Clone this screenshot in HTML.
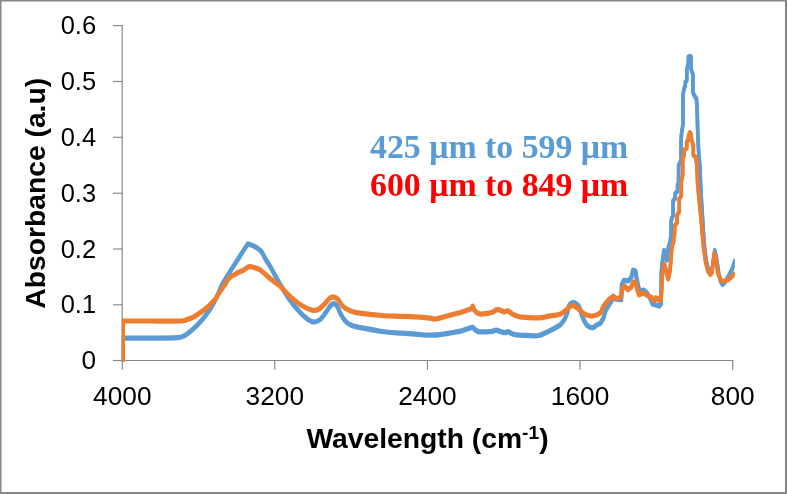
<!DOCTYPE html>
<html><head><meta charset="utf-8"><title>FTIR Absorbance</title>
<style>
html,body{margin:0;padding:0;background:#fff;}
body{width:787px;height:494px;overflow:hidden;}
svg{display:block;}
.tick{font-family:"Liberation Sans",sans-serif;font-size:25px;fill:#000;}
.ttl{font-family:"Liberation Sans",sans-serif;font-weight:bold;font-size:28px;fill:#000;}
.leg{font-family:"Liberation Serif",serif;font-weight:bold;font-size:33.85px;}
</style></head><body>
<svg width="787" height="494" viewBox="0 0 787 494">
<rect x="0" y="0" width="787" height="494" fill="#fff"/>
<path d="M0,0H787V494H0Z M1.5,1.5V492H785V1.5Z" fill="#868686" fill-rule="evenodd"/>

<g stroke="#868686" stroke-width="1.15" fill="none">
<line x1="122.2" y1="25" x2="122.2" y2="361"/>
<line x1="113" y1="360.5" x2="733.4" y2="360.5"/>
<line x1="113" y1="25.65" x2="122.5" y2="25.65"/>
<line x1="113" y1="81.5" x2="122.5" y2="81.5"/>
<line x1="113" y1="137.3" x2="122.5" y2="137.3"/>
<line x1="113" y1="193.2" x2="122.5" y2="193.2"/>
<line x1="113" y1="249.0" x2="122.5" y2="249.0"/>
<line x1="113" y1="304.8" x2="122.5" y2="304.8"/>
<line x1="113" y1="360.5" x2="122.5" y2="360.5"/>
<line x1="122.3" y1="360" x2="122.3" y2="369.7"/>
<line x1="274.8" y1="360" x2="274.8" y2="369.7"/>
<line x1="427.45" y1="360" x2="427.45" y2="369.7"/>
<line x1="580.05" y1="360" x2="580.05" y2="369.7"/>
<line x1="732.7" y1="360" x2="732.7" y2="369.7"/>
</g>
<text class="tick" transform="translate(96.1,34.2) scale(1.02,1)" text-anchor="end">0.6</text>
<text class="tick" transform="translate(96.1,90.1) scale(1.02,1)" text-anchor="end">0.5</text>
<text class="tick" transform="translate(96.1,145.9) scale(1.02,1)" text-anchor="end">0.4</text>
<text class="tick" transform="translate(96.1,201.8) scale(1.02,1)" text-anchor="end">0.3</text>
<text class="tick" transform="translate(96.1,257.6) scale(1.02,1)" text-anchor="end">0.2</text>
<text class="tick" transform="translate(96.1,313.4) scale(1.02,1)" text-anchor="end">0.1</text>
<text class="tick" transform="translate(96.1,369.1) scale(1.05,1)" text-anchor="end">0</text>
<text class="tick" transform="translate(122.3,405.4) scale(1.05,1)" text-anchor="middle">4000</text>
<text class="tick" transform="translate(274.8,405.4) scale(1.05,1)" text-anchor="middle">3200</text>
<text class="tick" transform="translate(427.45,405.4) scale(1.05,1)" text-anchor="middle">2400</text>
<text class="tick" transform="translate(580.05,405.4) scale(1.05,1)" text-anchor="middle">1600</text>
<text class="tick" transform="translate(732.7,405.4) scale(1.05,1)" text-anchor="middle">800</text>
<defs><clipPath id="pc"><rect x="121.8" y="20" width="612.9" height="342"/></clipPath></defs>
<g fill="none" stroke-width="3.6" stroke-linejoin="round" stroke-linecap="round" clip-path="url(#pc)">
<path stroke="#5B9BD5" stroke-width="3.85" transform="translate(0,-0.7)" d="M122.5,360.5 L122.8,338.2 L124.0,338.1 L150.0,338.1 C158.8,338.0 171.1,338.1 176.9,337.7 C182.7,337.2 182.3,336.9 185.0,335.4 C187.7,333.9 190.5,331.3 193.2,328.9 C195.9,326.5 198.7,323.8 201.3,320.8 C203.9,317.8 206.8,313.9 208.9,311.0 C211.0,308.1 212.2,305.8 213.7,303.1 C215.2,300.4 216.6,297.4 217.8,294.8 C219.0,292.2 219.5,290.0 220.7,287.5 C221.9,285.0 223.2,282.8 225.0,279.8 C226.8,276.8 229.1,273.2 231.5,269.3 C233.9,265.4 237.2,260.4 239.7,256.5 C242.2,252.6 244.9,248.1 246.5,246.0 C248.1,243.9 246.8,243.5 249.1,244.2 C251.4,244.9 257.3,247.6 260.2,250.3 C263.1,253.0 264.7,257.9 266.3,260.5 C267.9,263.1 267.7,262.1 270.0,266.1 C272.3,270.1 276.8,278.6 280.2,284.4 C283.6,290.2 286.9,296.0 290.3,300.7 C293.7,305.4 297.4,309.6 300.5,312.8 C303.6,316.0 306.2,318.5 308.6,320.0 C311.0,321.5 312.7,322.2 314.7,322.0 C316.7,321.8 318.8,320.9 320.8,319.0 C322.8,317.1 325.2,313.1 326.9,310.8 C328.6,308.5 329.8,306.3 331.0,305.1 C332.2,303.9 333.0,303.5 334.0,303.7 C335.0,303.9 335.9,304.4 337.1,306.3 C338.3,308.2 339.6,312.3 341.1,314.9 C342.6,317.5 344.2,320.1 346.2,322.0 C348.2,323.9 350.4,325.1 353.3,326.1 C356.2,327.1 358.8,327.2 363.5,328.1 C368.2,329.0 375.4,330.6 381.8,331.5 C388.2,332.4 395.7,332.7 402.1,333.2 C408.5,333.7 415.3,334.3 420.0,334.6 C424.7,334.9 426.8,335.1 430.2,335.1 C433.6,335.1 436.9,335.0 440.3,334.6 C443.7,334.2 447.1,333.5 450.5,332.9 C453.9,332.3 457.7,331.8 460.6,331.1 C463.5,330.4 465.8,329.3 467.8,328.7 C469.8,328.1 471.6,327.1 472.8,327.3 C474.0,327.5 473.9,328.9 474.9,329.6 C475.9,330.4 477.0,331.4 478.9,331.8 C480.8,332.2 483.8,331.9 486.0,331.8 C488.2,331.7 490.4,331.6 492.1,331.3 C493.8,331.0 494.9,330.1 496.2,330.1 C497.5,330.1 498.6,331.1 500.1,331.5 C501.6,331.9 503.9,332.7 505.2,332.7 C506.5,332.7 506.9,331.4 508.2,331.7 C509.5,331.9 511.3,333.6 513.3,334.2 C515.3,334.8 517.5,334.9 520.4,335.2 C523.3,335.4 527.5,335.6 530.6,335.7 C533.7,335.8 536.2,336.0 538.7,335.5 C541.2,335.0 543.3,333.8 545.8,332.7 C548.3,331.6 551.5,329.9 553.9,328.6 C556.3,327.3 558.3,326.4 560.0,325.0 C561.7,323.6 562.9,321.9 564.1,320.0 C565.3,318.1 566.3,315.9 567.1,313.5 C567.9,311.1 568.2,307.3 569.1,305.5 C570.0,303.7 571.2,303.2 572.2,302.8 C573.2,302.4 574.0,302.3 575.2,303.0 C576.4,303.7 578.2,304.9 579.3,307.0 C580.4,309.1 580.9,313.1 581.8,315.5 C582.6,317.9 583.5,319.4 584.4,321.1 C585.3,322.8 586.0,324.5 587.4,325.6 C588.8,326.7 591.0,327.8 592.5,327.7 C594.0,327.6 595.2,325.9 596.6,325.1 L600.6,323.1 L603.7,317.5 L605.7,310.4 L608.8,305.3 L611.8,300.2 L613.4,296.2 L615.9,299.2 L620.0,299.7 L621.3,299.7 L621.8,284.5 L623.9,280.4 L628.5,280.9 L631.5,276.8 L633.0,270.2 L635.6,271.3 L636.6,278.4 L638.1,285.5 L639.6,291.6 L643.7,290.1 L646.7,292.6 L650.8,299.7 L652.5,304.0 L656.0,305.0 L659.2,306.0 L661.0,303.8"/>
<path stroke="#5B9BD5" transform="translate(0,-0.7)" d="M661.0,303.8 L661.3,272.5 L662.2,264.0 L663.2,256.0 L664.0,250.3 L665.0,253.5 L665.8,256.7 L667.0,260.4 L668.2,248.2 L670.0,242.2 L671.2,233.6 L671.2,220.2 L673.1,215.4 L673.1,200.8 L675.2,198.4 L675.2,193.5 L677.6,191.1 L677.6,185.0 L678.6,183.0 L678.6,165.4 L681.1,160.3 L681.1,140.0 L681.5,134.0 L683.0,124.0 L683.0,95.0 L683.5,92.0 L683.9,89.5 L685.3,85.5 L685.3,82.4 L686.8,80.4 L686.8,69.3 L688.3,64.2 L688.5,56.6 L689.9,56.3 L691.2,57.1 L691.2,69.3 L692.9,74.4 L693.0,92.5 L694.0,95.0 L696.5,99.0 L697.2,111.8 L697.8,135.0 L698.8,155.2 L699.8,165.4 L700.6,185.0 L701.6,203.0 L702.8,221.5 L703.5,233.6 L704.5,247.0 L706.3,261.5 L708.4,270.0 L710.8,273.5 L712.6,266.0 L714.8,250.5 L716.5,258.0 L718.5,272.0 L720.5,281.0 L722.6,284.5 L725.0,282.0 L728.3,276.7 L732.6,268.2 L734.7,261.1"/>
<path stroke="#5B9BD5" stroke-width="3.85" transform="translate(0,0.7)" d="M122.5,360.5 L122.8,338.2 L124.0,338.1 L150.0,338.1 C158.8,338.0 171.1,338.1 176.9,337.7 C182.7,337.2 182.3,336.9 185.0,335.4 C187.7,333.9 190.5,331.3 193.2,328.9 C195.9,326.5 198.7,323.8 201.3,320.8 C203.9,317.8 206.8,313.9 208.9,311.0 C211.0,308.1 212.2,305.8 213.7,303.1 C215.2,300.4 216.6,297.4 217.8,294.8 C219.0,292.2 219.5,290.0 220.7,287.5 C221.9,285.0 223.2,282.8 225.0,279.8 C226.8,276.8 229.1,273.2 231.5,269.3 C233.9,265.4 237.2,260.4 239.7,256.5 C242.2,252.6 244.9,248.1 246.5,246.0 C248.1,243.9 246.8,243.5 249.1,244.2 C251.4,244.9 257.3,247.6 260.2,250.3 C263.1,253.0 264.7,257.9 266.3,260.5 C267.9,263.1 267.7,262.1 270.0,266.1 C272.3,270.1 276.8,278.6 280.2,284.4 C283.6,290.2 286.9,296.0 290.3,300.7 C293.7,305.4 297.4,309.6 300.5,312.8 C303.6,316.0 306.2,318.5 308.6,320.0 C311.0,321.5 312.7,322.2 314.7,322.0 C316.7,321.8 318.8,320.9 320.8,319.0 C322.8,317.1 325.2,313.1 326.9,310.8 C328.6,308.5 329.8,306.3 331.0,305.1 C332.2,303.9 333.0,303.5 334.0,303.7 C335.0,303.9 335.9,304.4 337.1,306.3 C338.3,308.2 339.6,312.3 341.1,314.9 C342.6,317.5 344.2,320.1 346.2,322.0 C348.2,323.9 350.4,325.1 353.3,326.1 C356.2,327.1 358.8,327.2 363.5,328.1 C368.2,329.0 375.4,330.6 381.8,331.5 C388.2,332.4 395.7,332.7 402.1,333.2 C408.5,333.7 415.3,334.3 420.0,334.6 C424.7,334.9 426.8,335.1 430.2,335.1 C433.6,335.1 436.9,335.0 440.3,334.6 C443.7,334.2 447.1,333.5 450.5,332.9 C453.9,332.3 457.7,331.8 460.6,331.1 C463.5,330.4 465.8,329.3 467.8,328.7 C469.8,328.1 471.6,327.1 472.8,327.3 C474.0,327.5 473.9,328.9 474.9,329.6 C475.9,330.4 477.0,331.4 478.9,331.8 C480.8,332.2 483.8,331.9 486.0,331.8 C488.2,331.7 490.4,331.6 492.1,331.3 C493.8,331.0 494.9,330.1 496.2,330.1 C497.5,330.1 498.6,331.1 500.1,331.5 C501.6,331.9 503.9,332.7 505.2,332.7 C506.5,332.7 506.9,331.4 508.2,331.7 C509.5,331.9 511.3,333.6 513.3,334.2 C515.3,334.8 517.5,334.9 520.4,335.2 C523.3,335.4 527.5,335.6 530.6,335.7 C533.7,335.8 536.2,336.0 538.7,335.5 C541.2,335.0 543.3,333.8 545.8,332.7 C548.3,331.6 551.5,329.9 553.9,328.6 C556.3,327.3 558.3,326.4 560.0,325.0 C561.7,323.6 562.9,321.9 564.1,320.0 C565.3,318.1 566.3,315.9 567.1,313.5 C567.9,311.1 568.2,307.3 569.1,305.5 C570.0,303.7 571.2,303.2 572.2,302.8 C573.2,302.4 574.0,302.3 575.2,303.0 C576.4,303.7 578.2,304.9 579.3,307.0 C580.4,309.1 580.9,313.1 581.8,315.5 C582.6,317.9 583.5,319.4 584.4,321.1 C585.3,322.8 586.0,324.5 587.4,325.6 C588.8,326.7 591.0,327.8 592.5,327.7 C594.0,327.6 595.2,325.9 596.6,325.1 L600.6,323.1 L603.7,317.5 L605.7,310.4 L608.8,305.3 L611.8,300.2 L613.4,296.2 L615.9,299.2 L620.0,299.7 L621.3,299.7 L621.8,284.5 L623.9,280.4 L628.5,280.9 L631.5,276.8 L633.0,270.2 L635.6,271.3 L636.6,278.4 L638.1,285.5 L639.6,291.6 L643.7,290.1 L646.7,292.6 L650.8,299.7 L652.5,304.0 L656.0,305.0 L659.2,306.0 L661.0,303.8"/>
<path stroke="#5B9BD5" transform="translate(0,0.7)" d="M661.0,303.8 L661.3,272.5 L662.2,264.0 L663.2,256.0 L664.0,250.3 L665.0,253.5 L665.8,256.7 L667.0,260.4 L668.2,248.2 L670.0,242.2 L671.2,233.6 L671.2,220.2 L673.1,215.4 L673.1,200.8 L675.2,198.4 L675.2,193.5 L677.6,191.1 L677.6,185.0 L678.6,183.0 L678.6,165.4 L681.1,160.3 L681.1,140.0 L681.5,134.0 L683.0,124.0 L683.0,95.0 L683.5,92.0 L683.9,89.5 L685.3,85.5 L685.3,82.4 L686.8,80.4 L686.8,69.3 L688.3,64.2 L688.5,56.6 L689.9,56.3 L691.2,57.1 L691.2,69.3 L692.9,74.4 L693.0,92.5 L694.0,95.0 L696.5,99.0 L697.2,111.8 L697.8,135.0 L698.8,155.2 L699.8,165.4 L700.6,185.0 L701.6,203.0 L702.8,221.5 L703.5,233.6 L704.5,247.0 L706.3,261.5 L708.4,270.0 L710.8,273.5 L712.6,266.0 L714.8,250.5 L716.5,258.0 L718.5,272.0 L720.5,281.0 L722.6,284.5 L725.0,282.0 L728.3,276.7 L732.6,268.2 L734.7,261.1"/>
<path stroke="#ED7D31" stroke-width="3.85" transform="translate(0,-0.7)" d="M122.9,360.5 L122.9,321.0 L150.0,321.0 C159.5,321.0 173.8,321.2 180.0,321.0 C186.2,320.8 184.6,320.3 187.0,319.6 C189.4,318.9 191.9,317.9 194.3,316.6 C196.7,315.3 199.2,313.6 201.6,311.8 C204.0,310.0 206.7,307.9 208.9,305.8 C211.1,303.7 213.2,301.7 215.0,299.4 C216.8,297.1 218.3,294.3 220.0,291.8 C221.7,289.3 223.7,286.6 225.0,284.5 C226.3,282.4 227.1,280.8 228.0,279.5 C228.9,278.2 229.5,277.8 230.5,277.0 C231.5,276.2 232.8,275.7 234.0,275.0 C235.2,274.3 236.3,273.6 238.0,272.7 C239.7,271.8 242.2,270.8 244.0,269.8 C245.8,268.8 247.4,267.0 249.1,266.6 C250.8,266.2 252.2,266.9 254.0,267.5 C255.8,268.1 257.5,268.2 260.2,270.0 C262.9,271.8 266.7,275.8 270.0,278.5 C273.3,281.2 276.8,283.4 280.2,286.4 C283.6,289.4 286.9,293.6 290.3,296.6 C293.7,299.7 297.1,302.5 300.5,304.7 C303.9,306.9 307.8,308.9 310.7,309.8 C313.6,310.7 315.6,310.7 317.8,309.8 C320.0,308.9 321.9,306.7 323.9,304.7 C325.9,302.7 328.3,299.2 330.0,298.0 C331.7,296.8 332.6,296.9 334.0,297.2 C335.4,297.5 336.6,298.0 338.1,299.6 C339.6,301.2 341.0,304.8 343.2,306.7 C345.4,308.6 348.2,310.1 351.3,311.2 C354.4,312.3 356.4,312.6 361.5,313.3 C366.6,314.0 375.0,315.0 381.8,315.5 C388.6,316.0 395.7,316.0 402.1,316.3 C408.5,316.6 415.3,316.9 420.0,317.2 C424.7,317.5 427.8,317.9 430.2,318.2 C432.6,318.5 433.0,319.2 434.7,319.2 C436.4,319.1 437.7,318.6 440.3,317.9 C442.9,317.2 447.1,315.9 450.5,315.0 C453.9,314.1 457.7,313.3 460.6,312.5 C463.5,311.7 466.0,310.6 467.8,310.0 C469.6,309.4 470.5,309.3 471.3,308.7 C472.1,308.1 472.3,305.9 472.8,306.2 C473.3,306.4 473.4,308.9 474.4,310.2 C475.4,311.5 477.0,313.2 478.9,313.8 C480.8,314.4 483.8,313.9 486.0,313.6 C488.2,313.4 490.4,312.9 492.1,312.3 C493.8,311.7 495.0,310.3 496.2,309.9 C497.4,309.5 497.8,309.5 499.1,309.8 C500.4,310.1 502.7,311.6 504.1,311.8 C505.5,312.0 506.3,310.5 507.7,310.8 C509.1,311.1 510.7,313.0 512.3,313.9 C513.9,314.8 515.2,315.6 517.4,316.2 C519.6,316.8 522.0,317.1 525.5,317.4 C529.0,317.7 534.8,318.1 538.7,317.9 C542.6,317.7 545.4,316.8 548.9,316.2 C552.4,315.6 557.3,315.1 560.0,314.2 C562.7,313.3 563.6,312.1 565.1,310.9 C566.6,309.7 567.9,308.1 569.1,307.2 C570.3,306.3 571.1,305.4 572.5,305.5 C573.9,305.6 575.6,306.8 577.3,307.9 C578.9,309.0 580.9,311.2 582.4,312.4 C583.9,313.6 584.9,314.4 586.4,315.0 C587.9,315.6 589.8,316.0 591.5,316.0 C593.2,316.0 595.1,315.5 596.6,315.0 L600.6,312.9 L603.2,306.8 L605.7,303.3 L609.5,298.9 L613.0,296.7 L615.8,298.5 L620.3,297.7 L621.5,294.1 L622.4,288.5 L624.5,286.0 L627.8,289.8 L631.3,287.0 L633.5,281.9 L635.6,282.9 L637.1,289.4 L639.1,294.8 L643.7,293.1 L647.8,295.7 L651.8,297.7 L653.9,300.7 L655.9,297.7 L657.9,299.7 L660.0,297.7 L661.0,299.7"/>
<path stroke="#ED7D31" transform="translate(0,-0.7)" d="M661.0,299.7 L662.0,285.0 L662.3,276.0 L663.3,268.0 L664.3,264.3 L665.3,267.5 L666.4,271.5 L667.3,276.0 L668.2,279.0 L669.2,275.0 L670.0,271.0 L670.9,260.4 L671.5,252.0 L672.0,245.8 L673.5,242.2 L674.0,236.0 L674.6,233.8 L674.8,225.3 L677.0,222.7 L677.0,215.4 L679.2,211.7 L679.2,199.0 L681.3,195.9 L681.3,181.5 L682.7,175.5 L682.7,156.8 L684.2,155.2 L684.2,150.2 L686.7,148.2 L686.7,142.0 L688.3,139.5 L688.6,135.0 L689.9,132.6 L691.2,135.0 L691.5,140.0 L693.3,145.1 L693.3,155.2 L695.8,157.3 L696.8,165.4 L697.3,175.5 L697.7,185.0 L699.5,203.2 L701.3,221.5 L702.3,233.6 L703.5,247.0 L705.5,261.5 L707.7,270.6 L710.3,274.6 L712.0,272.5 L713.0,262.6 L714.4,253.3 L715.8,258.3 L717.7,272.5 L720.5,279.6 L723.3,281.7 L728.3,279.6 L734.7,273.9"/>
<path stroke="#ED7D31" stroke-width="3.85" transform="translate(0,0.7)" d="M122.9,360.5 L122.9,321.0 L150.0,321.0 C159.5,321.0 173.8,321.2 180.0,321.0 C186.2,320.8 184.6,320.3 187.0,319.6 C189.4,318.9 191.9,317.9 194.3,316.6 C196.7,315.3 199.2,313.6 201.6,311.8 C204.0,310.0 206.7,307.9 208.9,305.8 C211.1,303.7 213.2,301.7 215.0,299.4 C216.8,297.1 218.3,294.3 220.0,291.8 C221.7,289.3 223.7,286.6 225.0,284.5 C226.3,282.4 227.1,280.8 228.0,279.5 C228.9,278.2 229.5,277.8 230.5,277.0 C231.5,276.2 232.8,275.7 234.0,275.0 C235.2,274.3 236.3,273.6 238.0,272.7 C239.7,271.8 242.2,270.8 244.0,269.8 C245.8,268.8 247.4,267.0 249.1,266.6 C250.8,266.2 252.2,266.9 254.0,267.5 C255.8,268.1 257.5,268.2 260.2,270.0 C262.9,271.8 266.7,275.8 270.0,278.5 C273.3,281.2 276.8,283.4 280.2,286.4 C283.6,289.4 286.9,293.6 290.3,296.6 C293.7,299.7 297.1,302.5 300.5,304.7 C303.9,306.9 307.8,308.9 310.7,309.8 C313.6,310.7 315.6,310.7 317.8,309.8 C320.0,308.9 321.9,306.7 323.9,304.7 C325.9,302.7 328.3,299.2 330.0,298.0 C331.7,296.8 332.6,296.9 334.0,297.2 C335.4,297.5 336.6,298.0 338.1,299.6 C339.6,301.2 341.0,304.8 343.2,306.7 C345.4,308.6 348.2,310.1 351.3,311.2 C354.4,312.3 356.4,312.6 361.5,313.3 C366.6,314.0 375.0,315.0 381.8,315.5 C388.6,316.0 395.7,316.0 402.1,316.3 C408.5,316.6 415.3,316.9 420.0,317.2 C424.7,317.5 427.8,317.9 430.2,318.2 C432.6,318.5 433.0,319.2 434.7,319.2 C436.4,319.1 437.7,318.6 440.3,317.9 C442.9,317.2 447.1,315.9 450.5,315.0 C453.9,314.1 457.7,313.3 460.6,312.5 C463.5,311.7 466.0,310.6 467.8,310.0 C469.6,309.4 470.5,309.3 471.3,308.7 C472.1,308.1 472.3,305.9 472.8,306.2 C473.3,306.4 473.4,308.9 474.4,310.2 C475.4,311.5 477.0,313.2 478.9,313.8 C480.8,314.4 483.8,313.9 486.0,313.6 C488.2,313.4 490.4,312.9 492.1,312.3 C493.8,311.7 495.0,310.3 496.2,309.9 C497.4,309.5 497.8,309.5 499.1,309.8 C500.4,310.1 502.7,311.6 504.1,311.8 C505.5,312.0 506.3,310.5 507.7,310.8 C509.1,311.1 510.7,313.0 512.3,313.9 C513.9,314.8 515.2,315.6 517.4,316.2 C519.6,316.8 522.0,317.1 525.5,317.4 C529.0,317.7 534.8,318.1 538.7,317.9 C542.6,317.7 545.4,316.8 548.9,316.2 C552.4,315.6 557.3,315.1 560.0,314.2 C562.7,313.3 563.6,312.1 565.1,310.9 C566.6,309.7 567.9,308.1 569.1,307.2 C570.3,306.3 571.1,305.4 572.5,305.5 C573.9,305.6 575.6,306.8 577.3,307.9 C578.9,309.0 580.9,311.2 582.4,312.4 C583.9,313.6 584.9,314.4 586.4,315.0 C587.9,315.6 589.8,316.0 591.5,316.0 C593.2,316.0 595.1,315.5 596.6,315.0 L600.6,312.9 L603.2,306.8 L605.7,303.3 L609.5,298.9 L613.0,296.7 L615.8,298.5 L620.3,297.7 L621.5,294.1 L622.4,288.5 L624.5,286.0 L627.8,289.8 L631.3,287.0 L633.5,281.9 L635.6,282.9 L637.1,289.4 L639.1,294.8 L643.7,293.1 L647.8,295.7 L651.8,297.7 L653.9,300.7 L655.9,297.7 L657.9,299.7 L660.0,297.7 L661.0,299.7"/>
<path stroke="#ED7D31" transform="translate(0,0.7)" d="M661.0,299.7 L662.0,285.0 L662.3,276.0 L663.3,268.0 L664.3,264.3 L665.3,267.5 L666.4,271.5 L667.3,276.0 L668.2,279.0 L669.2,275.0 L670.0,271.0 L670.9,260.4 L671.5,252.0 L672.0,245.8 L673.5,242.2 L674.0,236.0 L674.6,233.8 L674.8,225.3 L677.0,222.7 L677.0,215.4 L679.2,211.7 L679.2,199.0 L681.3,195.9 L681.3,181.5 L682.7,175.5 L682.7,156.8 L684.2,155.2 L684.2,150.2 L686.7,148.2 L686.7,142.0 L688.3,139.5 L688.6,135.0 L689.9,132.6 L691.2,135.0 L691.5,140.0 L693.3,145.1 L693.3,155.2 L695.8,157.3 L696.8,165.4 L697.3,175.5 L697.7,185.0 L699.5,203.2 L701.3,221.5 L702.3,233.6 L703.5,247.0 L705.5,261.5 L707.7,270.6 L710.3,274.6 L712.0,272.5 L713.0,262.6 L714.4,253.3 L715.8,258.3 L717.7,272.5 L720.5,279.6 L723.3,281.7 L728.3,279.6 L734.7,273.9"/>
</g>
<text class="ttl" transform="translate(427.5,447.7) scale(1.01,1)" text-anchor="middle">Wavelength (cm<tspan font-size="19" dy="-8.4">-1</tspan><tspan dy="8.4">)</tspan></text>
<text class="ttl" transform="translate(45.4,193.3) rotate(-90) scale(1.01,1)" text-anchor="middle">Absorbance (a.u)</text>
<text class="leg" x="370" y="157.9" fill="#5B9BD5">425 μm to 599 μm</text>
<text class="leg" x="370" y="196.2" fill="#FF0000">600 μm to 849 μm</text>
</svg></body></html>
